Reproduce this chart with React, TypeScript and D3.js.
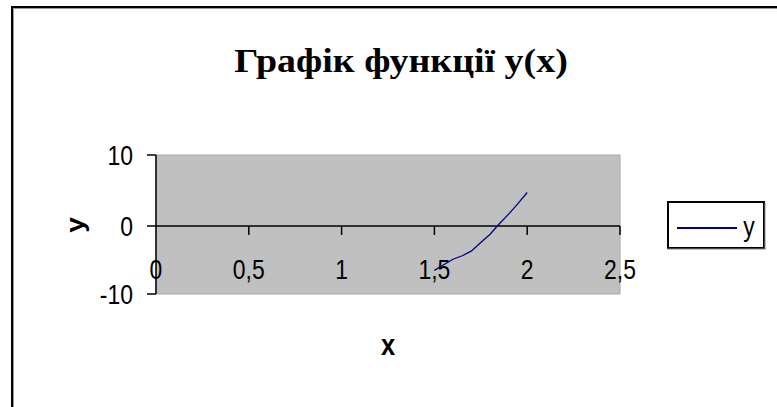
import React from "react";
import * as d3 from "d3";

const xValues = [1.5, 1.55, 1.6, 1.65, 1.7, 1.75, 1.8, 1.85, 1.9, 1.95, 2.0];
const yValues = [-6.6, -5.8, -5.0, -4.5, -3.8, -2.6, -1.4, 0.1, 1.5, 3.0, 4.6];
const xTicks = [0, 0.5, 1, 1.5, 2, 2.5];
const yTicks = [-10, 0, 10];
const title = "Графік функції y(x)";
const seriesName = "y";

const fmt = (v: number) => String(v).replace(".", ",");

export default function App() {
  const W = 777, H = 407;
  const left = 156, right = 620, top = 155, bottom = 294;
  const x = d3.scaleLinear().domain([0, 2.5]).range([left, right]);
  const y = d3.scaleLinear().domain([-10, 10]).range([bottom, top]);
  const zeroY = 226;
  const line = d3
    .line<number>()
    .x((_, i) => x(xValues[i]))
    .y((d) => y(d));
  const sans = "'Liberation Sans', Arial, sans-serif";
  const tickStyle: React.CSSProperties = { fontFamily: sans, fontSize: 27 };
  return (
    <div style={{ position: "fixed", left: 0, top: 0, width: W, height: H, background: "#fff" }}>
      <svg width={W} height={H} style={{ display: "block" }}>
        <rect x={0} y={0} width={W} height={H} fill="#fff" />
        {/* outer frame */}
        <line x1={11} y1={7} x2={W} y2={7} stroke="#000" strokeWidth={2} />
        <line x1={12} y1={6} x2={12} y2={H} stroke="#000" strokeWidth={2} />
        <line x1={13.5} y1={8.5} x2={W} y2={8.5} stroke="#999" strokeWidth={1} />
        <line x1={13.5} y1={8.5} x2={13.5} y2={H} stroke="#999" strokeWidth={1} />
        <text
          x={0}
          y={0}
          textAnchor="middle"
          transform={`translate(401,72) scale(1.116,1)`}
          style={{ fontFamily: "'Liberation Serif', 'Times New Roman', serif", fontWeight: "bold", fontSize: 34 }}
        >
          {title}
        </text>
        {/* plot area */}
        <rect x={left} y={top} width={right - left} height={bottom - top} fill="#c0c0c0" stroke="#a8a8a8" strokeWidth={1} />
        {/* y axis */}
        <line x1={left} y1={top} x2={left} y2={bottom} stroke="#000" strokeWidth={1.5} />
        {yTicks.map((t) => {
          const ty = t === 0 ? zeroY : y(t);
          return (
            <g key={"yt" + t}>
              <line x1={left - 9} x2={left} y1={ty} y2={ty} stroke="#000" strokeWidth={1.5} />
              <text
                x={0}
                y={0}
                textAnchor="end"
                dominantBaseline="central"
                transform={`translate(${left - 23},${ty}) scale(0.85,1)`}
                style={tickStyle}
              >
                {fmt(t)}
              </text>
            </g>
          );
        })}
        {/* x axis at zero */}
        <line x1={left} x2={right} y1={zeroY} y2={zeroY} stroke="#000" strokeWidth={1.5} />
        {xTicks.map((t) => (
          <g key={"xt" + t}>
            {t > 0 && <line x1={x(t)} x2={x(t)} y1={zeroY} y2={zeroY + 9} stroke="#000" strokeWidth={1.5} />}
            <text
              x={0}
              y={0}
              textAnchor="middle"
              dominantBaseline="central"
              transform={`translate(${x(t)},${zeroY + 43}) scale(0.85,1)`}
              style={tickStyle}
            >
              {fmt(t)}
            </text>
          </g>
        ))}
        <path d={line(yValues) || ""} fill="none" stroke="#000080" strokeWidth={1.3} />
        {/* axis titles */}
        <text
          x={0}
          y={0}
          textAnchor="middle"
          dominantBaseline="central"
          transform={`translate(75,225) rotate(-90) scale(1,0.9)`}
          style={{ fontFamily: sans, fontWeight: "bold", fontSize: 28 }}
        >
          y
        </text>
        <text
          x={0}
          y={0}
          textAnchor="middle"
          dominantBaseline="central"
          transform={`translate(388,345) scale(0.85,1)`}
          style={{ fontFamily: sans, fontWeight: "bold", fontSize: 30 }}
        >
          x
        </text>
        {/* legend */}
        <rect x={668} y={202} width={96} height={46} fill="#fff" stroke="#000" strokeWidth={2} />
        <line x1={667} y1={249} x2={766} y2={249} stroke="#888" strokeWidth={1} />
        <line x1={765} y1={203} x2={765} y2={249} stroke="#888" strokeWidth={1} />
        <line x1={677} x2={737} y1={228} y2={228} stroke="#000080" strokeWidth={2} />
        <text
          x={0}
          y={0}
          textAnchor="middle"
          dominantBaseline="central"
          transform={`translate(749,226) scale(0.82,1)`}
          style={{ fontFamily: sans, fontSize: 28 }}
        >
          {seriesName}
        </text>
      </svg>
    </div>
  );
}
